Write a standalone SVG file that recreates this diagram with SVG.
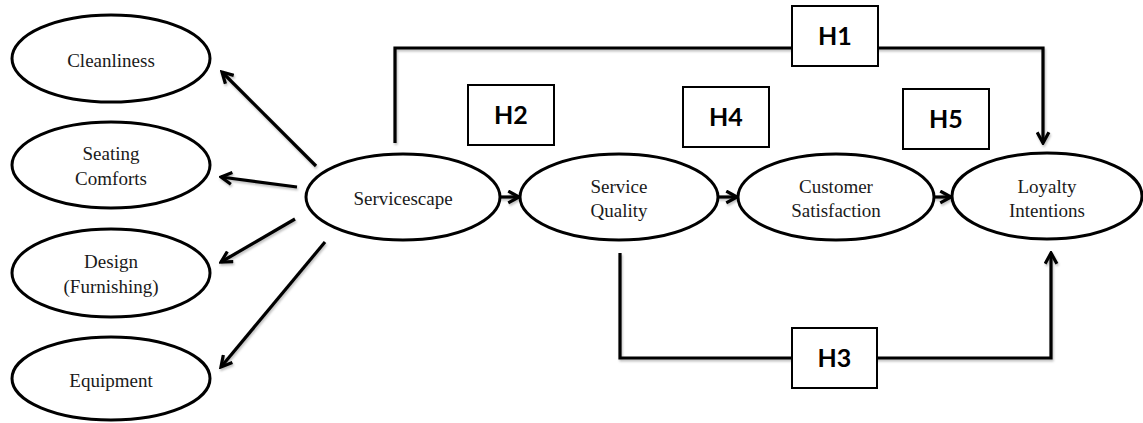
<svg xmlns="http://www.w3.org/2000/svg" width="1143" height="423" viewBox="0 0 1143 423">
  <style>
    .node ellipse { fill: #ffffff; stroke: #000000; stroke-width: 3; }
    .node text { font-family: "Liberation Serif", "Times New Roman", serif; font-size: 19px; fill: #1a1a1a; text-anchor: middle; }
    .hyp rect { fill: #ffffff; stroke: #000000; stroke-width: 2; }
    .hyp text { font-family: Lato, "Liberation Sans", sans-serif; font-weight: bold; font-size: 25px; fill: #000000; text-anchor: middle; }
    .link { fill: none; stroke: #000000; stroke-width: 3.2; stroke-linejoin: miter; }
    .arrow { marker-end: url(#chevron); }
  </style>
  <defs>
    <marker id="chevron" viewBox="0 0 14 14" refX="12" refY="7" markerUnits="userSpaceOnUse" markerWidth="15" markerHeight="15" orient="auto">
      <path d="M2,1.5 L12,7 L2,12.5" fill="none" stroke="#000000" stroke-width="3"/>
    </marker>
    <filter id="shade" x="-5%" y="-5%" width="110%" height="120%">
      <feDropShadow dx="1" dy="2" stdDeviation="1.2" flood-color="#000000" flood-opacity="0.25"/>
    </filter>
  </defs>

  <rect width="1143" height="423" fill="#ffffff"/>

  <!-- connectors -->
  <g id="connectors" filter="url(#shade)">
    <!-- servicescape to its dimensions -->
    <line class="link arrow" x1="316" y1="166" x2="222" y2="72"/>
    <line class="link arrow" x1="297" y1="187" x2="221" y2="177"/>
    <line class="link arrow" x1="295" y1="219" x2="221" y2="262"/>
    <line class="link arrow" x1="325" y1="242" x2="221" y2="367"/>
    <!-- main chain -->
    <line class="link arrow" x1="500" y1="197" x2="519" y2="197"/>
    <line class="link arrow" x1="718" y1="197" x2="737" y2="197"/>
    <line class="link arrow" x1="934" y1="197" x2="951" y2="197"/>
    <!-- H1: servicescape to loyalty -->
    <path class="link arrow" d="M395,143 V48 H1043 V143"/>
    <!-- H3: service quality to loyalty -->
    <path class="link arrow" d="M620,253 V358 H1051 V253"/>
  </g>

  <!-- nodes -->
  <g id="cleanliness" class="node">
    <ellipse cx="111" cy="58.5" rx="99" ry="43.5"/>
    <text x="111" y="67">Cleanliness</text>
  </g>
  <g id="seating-comforts" class="node">
    <ellipse cx="111" cy="165" rx="99" ry="43"/>
    <text x="111" y="160">Seating</text>
    <text x="111" y="185">Comforts</text>
  </g>
  <g id="design" class="node">
    <ellipse cx="111" cy="273" rx="99" ry="44"/>
    <text x="111" y="268">Design</text>
    <text x="111" y="293">(Furnishing)</text>
  </g>
  <g id="equipment" class="node">
    <ellipse cx="111" cy="378.5" rx="99" ry="41.5"/>
    <text x="111" y="387">Equipment</text>
  </g>
  <g id="servicescape" class="node">
    <ellipse cx="403" cy="197" rx="97" ry="43"/>
    <text x="403" y="205">Servicescape</text>
  </g>
  <g id="service-quality" class="node">
    <ellipse cx="619" cy="197" rx="99" ry="43"/>
    <text x="619" y="193">Service</text>
    <text x="619" y="217">Quality</text>
  </g>
  <g id="customer-satisfaction" class="node">
    <ellipse cx="836" cy="197" rx="98" ry="43"/>
    <text x="836" y="193">Customer</text>
    <text x="836" y="217">Satisfaction</text>
  </g>
  <g id="loyalty-intentions" class="node">
    <ellipse cx="1047" cy="196" rx="95" ry="43"/>
    <text x="1047" y="193">Loyalty</text>
    <text x="1047" y="217">Intentions</text>
  </g>

  <!-- hypothesis labels -->
  <g id="h1" class="hyp">
    <rect x="792" y="6" width="86" height="60"/>
    <text x="835" y="45">H1</text>
  </g>
  <g id="h2" class="hyp">
    <rect x="468" y="85" width="86" height="60"/>
    <text x="511" y="124">H2</text>
  </g>
  <g id="h3" class="hyp">
    <rect x="792" y="328" width="85" height="60"/>
    <text x="834.5" y="367">H3</text>
  </g>
  <g id="h4" class="hyp">
    <rect x="683" y="87" width="86" height="60"/>
    <text x="726" y="126">H4</text>
  </g>
  <g id="h5" class="hyp">
    <rect x="903" y="89" width="86" height="60"/>
    <text x="946" y="128">H5</text>
  </g>
</svg>
